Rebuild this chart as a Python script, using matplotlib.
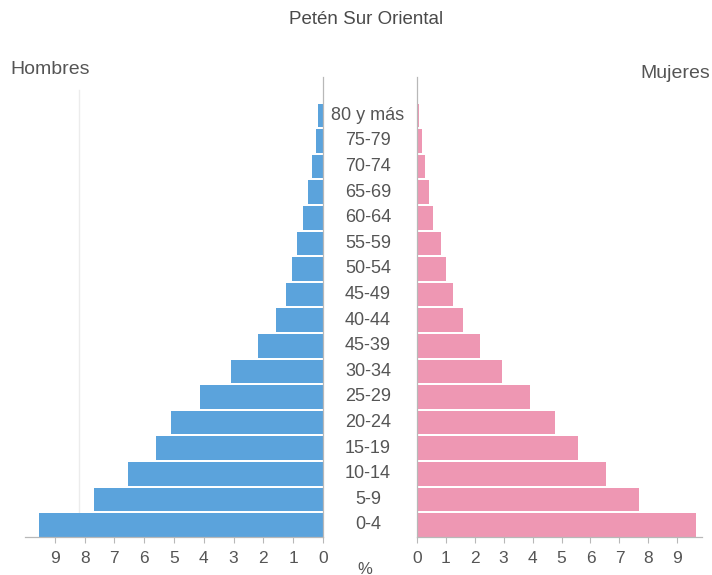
import matplotlib
matplotlib.use('Agg')
import matplotlib.pyplot as plt
import matplotlib.transforms as mtransforms

plt.rcParams['font.family'] = ['Liberation Sans', 'DejaVu Sans']

# Age groups, bottom to top (labels as printed on the chart)
age_groups = ['0-4', '5-9', '10-14', '15-19', '20-24', '25-29', '30-34',
              '45-39', '40-44', '45-49', '50-54', '55-59', '60-64',
              '65-69', '70-74', '75-79', '80 y más']

# Percent of population per age group
hombres = [9.53, 7.67, 6.53, 5.60, 5.11, 4.13, 3.10, 2.17, 1.58, 1.24,
           1.05, 0.88, 0.68, 0.52, 0.38, 0.24, 0.16]
mujeres = [9.65, 7.67, 6.52, 5.57, 4.79, 3.91, 2.93, 2.18, 1.61, 1.26,
           1.00, 0.83, 0.56, 0.43, 0.30, 0.20, 0.09]

ticks = list(range(10))

BLUE = '#5ba3dc'
PINK = '#ee97b3'
TEXT = '#555555'
AXIS = '#b8b8b8'

fig = plt.figure(figsize=(7.12, 5.75), dpi=100)
fig.patch.set_facecolor('white')

ax_l = fig.add_axes([25 / 712, 0.0661, 298 / 712, 0.80])
ax_r = fig.add_axes([416.7 / 712, 0.0661, 285.3 / 712, 0.80])

ypos = list(range(len(age_groups)))

ax_l.barh(ypos, hombres, height=0.92, color=BLUE, edgecolor='none')
ax_r.barh(ypos, mujeres, height=0.92, color=PINK, edgecolor='none')

ax_l.set_xlim(10, 0)
ax_r.set_xlim(0, 9.85)

for ax in (ax_l, ax_r):
    ax.set_ylim(-0.47, 17.5)
    ax.set_yticks([])
    ax.set_xticks(ticks)
    ax.set_xticklabels([str(t) for t in ticks])
    ax.tick_params(axis='x', direction='out', length=4, width=0.8,
                   colors=AXIS, labelcolor=TEXT, labelsize=12.5, pad=6)
    ax.spines['top'].set_visible(False)
    for s in ax.spines.values():
        s.set_color(AXIS)
        s.set_linewidth(0.9)
    ax.set_facecolor('none')

ax_l.spines['left'].set_visible(False)
ax_r.spines['right'].set_visible(False)

# faint vertical guide seen on the left panel
ax_l.plot([8.2, 8.2], [0.1, 17.0], color='#ececec', lw=1, zorder=0)

# age labels centred between both panels
trans = mtransforms.blended_transform_factory(fig.transFigure, ax_l.transData)
for y, lab in zip(ypos, age_groups):
    fig.text(368 / 712, y, lab, transform=trans, ha='center', va='center',
             fontsize=13, color=TEXT)

fig.text(366 / 712, 1 - 20 / 575, 'Petén Sur Oriental', ha='center',
         va='center', fontsize=13.5, color='#4a4a4a')
fig.text(10 / 712, 1 - 70 / 575, 'Hombres', ha='left', va='center',
         fontsize=14, color=TEXT)
fig.text(710 / 712, 1 - 73 / 575, 'Mujeres', ha='right', va='center',
         fontsize=14, color=TEXT)
fig.text(365 / 712, 1 - 569 / 575, '%', ha='center', va='center',
         fontsize=12, color=TEXT)

fig.savefig('out.png', dpi=100)
